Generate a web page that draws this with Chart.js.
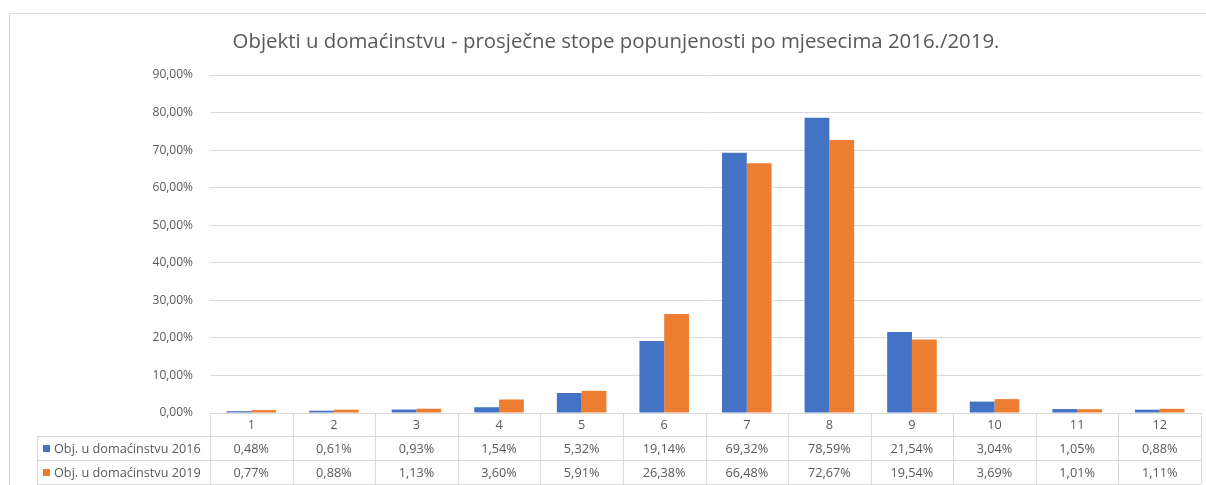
<!DOCTYPE html>
<html>
<head>
<meta charset="utf-8">
<script src="https://cdn.jsdelivr.net/npm/chart.js@4/dist/chart.umd.min.js"></script>
<style>
  html, body { margin: 0; padding: 0; background: #fff; }
  #wrap { position: relative; width: 1206px; height: 485px; overflow: hidden; }
  #frame { position: absolute; left: 9px; top: 13px; width: 1220px; height: 490px;
           border: 1px solid #d9d9d9; box-sizing: border-box; }
  canvas { position: absolute; left: 0; top: 0; }
</style>
</head>
<body>
<div id="wrap">
  <div id="frame"></div>
  <canvas id="occChart" width="1206" height="485"></canvas>
</div>
<script>
// chart data
const months    = ["1","2","3","4","5","6","7","8","9","10","11","12"];
const label2016 = "Obj. u domaćinstvu 2016";
const label2019 = "Obj. u domaćinstvu 2019";
const occ2016   = [0.48, 0.61, 0.93, 1.54, 5.32, 19.14, 69.32, 78.59, 21.54, 3.04, 1.05, 0.88];
const occ2019   = [0.77, 0.88, 1.13, 3.60, 5.91, 26.38, 66.48, 72.67, 19.54, 3.69, 1.01, 1.11];
const yTicks    = [0, 10, 20, 30, 40, 50, 60, 70, 80, 90];
const titleText = "Objekti u domaćinstvu - prosječne stope popunjenosti po mjesecima 2016./2019.";

const BLUE   = "#4472c4";
const ORANGE = "#ed7d31";
const GRID   = "#d9d9d9";
const TEXT   = "#595959";
const FONT   = "'Open Sans', 'DejaVu Sans', sans-serif";

const pct = v => v.toFixed(2).replace(".", ",") + "%";

// title + data table under the plot
const tablePlugin = {
  id: "dataTable",
  afterDraw(chart) {
    const ctx = chart.ctx;
    const x = chart.scales.x;
    const area = chart.chartArea;
    const rowH = 24;
    const top = area.bottom;
    const keyLeft = 37;

    ctx.save();
    // title
    ctx.fillStyle = TEXT;
    ctx.font = "20.4px " + FONT;
    ctx.textAlign = "center";
    ctx.textBaseline = "middle";
    ctx.fillText(titleText, 616, 42);

    // grid of the table
    ctx.strokeStyle = GRID;
    ctx.lineWidth = 1;
    ctx.beginPath();
    ctx.moveTo(area.left, top + 0.5);
    ctx.lineTo(area.right, top + 0.5);
    for (let r = 1; r <= 3; r++) {
      const y = Math.round(top + r * rowH - 1) + 0.5;
      ctx.moveTo(keyLeft, y);
      ctx.lineTo(area.right, y);
    }
    const half = (x.getPixelForValue(1) - x.getPixelForValue(0)) / 2;
    for (let i = 0; i <= months.length; i++) {
      const px = Math.round(i < months.length ? x.getPixelForValue(i) - half : x.getPixelForValue(i - 1) + half) + 0.5;
      ctx.moveTo(px, top);
      ctx.lineTo(px, top + 3 * rowH - 1);
    }
    ctx.moveTo(keyLeft + 0.5, top + rowH - 1);
    ctx.lineTo(keyLeft + 0.5, top + 3 * rowH - 1);
    ctx.stroke();

    // cells
    ctx.font = "12.7px " + FONT;
    ctx.fillStyle = TEXT;
    months.forEach((m, i) => {
      const cx = x.getPixelForValue(i);
      ctx.fillText(m, cx, top + rowH / 2);
      ctx.fillText(pct(occ2016[i]), cx, top + rowH * 1.5);
      ctx.fillText(pct(occ2019[i]), cx, top + rowH * 2.5);
    });

    // row headers with legend keys
    const rows = [[label2016, BLUE], [label2019, ORANGE]];
    rows.forEach(([text, color], r) => {
      const cy = top + rowH * (1.5 + r);
      ctx.fillStyle = color;
      ctx.fillRect(43, cy - 4, 7, 7);
      ctx.fillStyle = TEXT;
      ctx.textAlign = "left";
      ctx.fillText(text, 54, cy);
    });
    ctx.restore();
  }
};

const ctx = document.getElementById("occChart").getContext("2d");
new Chart(ctx, {
  type: "bar",
  data: {
    labels: months,
    datasets: [
      { label: label2016, data: occ2016, backgroundColor: BLUE, borderWidth: 0 },
      { label: label2019, data: occ2019, backgroundColor: ORANGE, borderWidth: 0 }
    ]
  },
  options: {
    responsive: false,
    animation: false,
    layout: { padding: { left: 0, top: 75, right: 5, bottom: 72 } },
    datasets: { bar: { categoryPercentage: 0.6, barPercentage: 1 } },
    scales: {
      x: { display: false },
      y: {
        min: 0,
        max: 90,
        afterFit: s => { s.width = 210; },
        afterBuildTicks: s => { s.ticks = yTicks.map(v => ({ value: v })); },
        border: { display: false },
        grid: { color: GRID, drawTicks: false },
        ticks: {
          padding: 17,
          color: TEXT,
          font: { family: FONT, size: 12 },
          callback: v => pct(v)
        }
      }
    },
    plugins: {
      legend: { display: false },
      title: { display: false },
      tooltip: { enabled: false }
    }
  },
  plugins: [tablePlugin]
});
</script>
</body>
</html>
